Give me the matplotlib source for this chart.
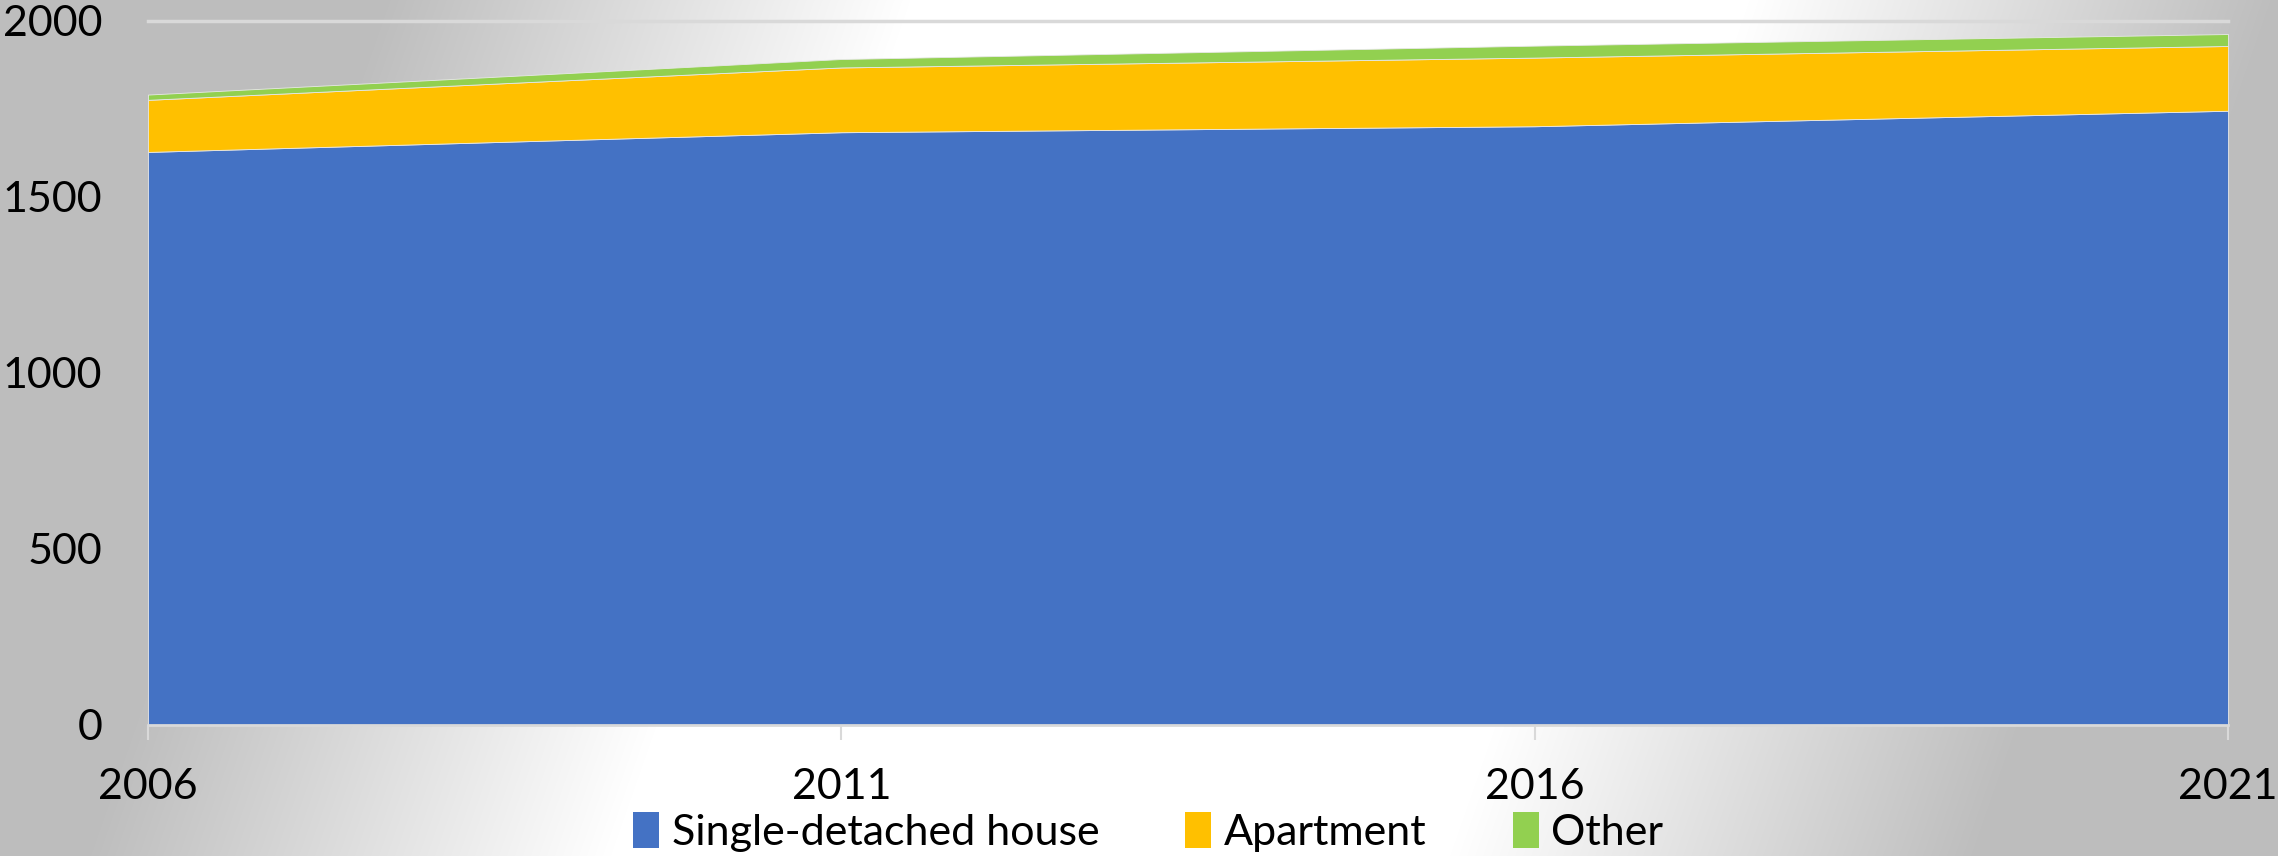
import numpy as np
import matplotlib
matplotlib.use("Agg")
import matplotlib.pyplot as plt
from matplotlib.patches import Patch

years = [2006, 2011, 2016, 2021]
single_detached = [1628, 1684, 1701, 1745]
apartment = [148, 184, 195, 184]
other = [15, 24, 34, 34]
series_names = ["Single-detached house", "Apartment", "Other"]
colors = ["#4472C4", "#FFC000", "#92D050"]
yticks = [0, 500, 1000, 1500, 2000]

plt.rcParams['font.family'] = ['Lato', 'DejaVu Sans']

W, H = 2278, 856
fig = plt.figure(figsize=(W / 100, H / 100), dpi=100)

# background gradient (gray edges, white diagonal band)
yy, xx = np.mgrid[0:H, 0:W]
d = np.abs(xx - (1330 - 0.35 * yy))
t = np.clip((d - 420) / 520, 0, 1)
v = 1 - t * (1 - 0.745)
bg = fig.add_axes([0, 0, 1, 1], zorder=0)
bg.imshow(np.dstack([v, v, v]), aspect='auto', extent=[0, 1, 0, 1])
bg.axis('off')

ax = fig.add_axes([148 / W, 1 - 725 / H, (2228 - 148) / W, (725 - 21) / H], zorder=1)
ax.patch.set_alpha(0)
ax.stackplot(years, single_detached, apartment, other, colors=colors,
             labels=series_names, edgecolor='#e8e8e8', linewidth=0.6)
ax.set_xlim(years[0], years[-1])
ax.set_ylim(0, 2000)
ax.set_xticks(years)
ax.set_yticks(yticks)
ax.tick_params(axis='y', length=0, pad=33, labelsize=31)
ax.tick_params(axis='x', length=11, width=1.5, color='#d9d9d9', pad=20, labelsize=31)
for s in ['top', 'right', 'left']:
    ax.spines[s].set_visible(False)
ax.spines['bottom'].set_color('#d9d9d9')
ax.spines['bottom'].set_linewidth(2)
ax.axhline(2000, color='#d9d9d9', lw=2.5, zorder=0, clip_on=False)

handles = [Patch(facecolor=c, edgecolor='none') for c in colors]
fig.legend(handles, series_names, loc='center', bbox_to_anchor=(0.504, 1 - 832 / H),
           ncol=3, frameon=False, fontsize=31, handlelength=0.6, handleheight=0.9,
           handletextpad=0.3, columnspacing=2.0, borderpad=0)

fig.savefig("out.png", dpi=100)
